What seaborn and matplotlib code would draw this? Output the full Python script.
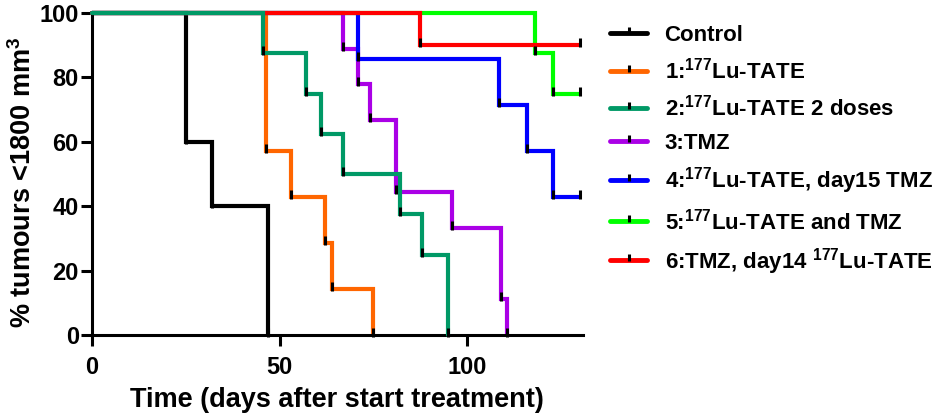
import numpy as np
import pandas as pd
import matplotlib
matplotlib.use("Agg")
import matplotlib.pyplot as plt
from matplotlib.path import Path
from matplotlib.lines import Line2D
import seaborn as sns

# ---- data ----
groups = ["Control", "1:$^{177}$Lu-TATE", "2:$^{177}$Lu-TATE 2 doses", "3:TMZ",
          "4:$^{177}$Lu-TATE, day15 TMZ", "5:$^{177}$Lu-TATE and TMZ",
          "6:TMZ, day14 $^{177}$Lu-TATE"]
control_t = [0, 25, 32, 47]
control_s = [100, 60, 40, 0]
lu_t = [0, 46.5, 53, 62, 64, 75]
lu_s = [100, 57.1, 42.9, 28.6, 14.3, 0]
lu2_t = [0, 45.5, 57, 61, 67, 82, 88, 95]
lu2_s = [100, 87.5, 75, 62.5, 50, 37.5, 25, 0]
tmz_t = [0, 67, 71, 74, 81, 96, 109, 110.5]
tmz_s = [100, 88.9, 77.8, 66.7, 44.4, 33.3, 11.1, 0]
g4_t = [0, 71, 108.5, 116, 123, 130]
g4_s = [100, 85.7, 71.4, 57.1, 42.9, 42.9]
g5_t = [0, 118, 123, 130]
g5_s = [100, 87.5, 75, 75]
g6_t = [0, 87.5, 130]
g6_s = [100, 90, 90]
x_ticks = [0, 50, 100]
y_ticks = [0, 20, 40, 60, 80, 100]

colors = ["#000000", "#FF6600", "#009966", "#AA00E6", "#0000FF", "#00FF00", "#FF0000"]
series_t = [control_t, lu_t, lu2_t, tmz_t, g4_t, g5_t, g6_t]
series_s = [control_s, lu_s, lu2_s, tmz_s, g4_s, g5_s, g6_s]

rows = []
for g, ts, ss in zip(groups, series_t, series_s):
    for t, s in zip(ts, ss):
        rows.append({"group": g, "day": t, "pct": s})
df = pd.DataFrame(rows)

sns.set_style("ticks")
plt.rcParams["font.family"] = ["Liberation Sans", "DejaVu Sans"]
plt.rcParams["font.weight"] = "bold"
plt.rcParams["mathtext.fontset"] = "custom"
plt.rcParams["mathtext.rm"] = "Liberation Sans:bold"
plt.rcParams["mathtext.it"] = "Liberation Sans:bold"
plt.rcParams["mathtext.bf"] = "Liberation Sans:bold"
plt.rcParams["mathtext.default"] = "rm"
for k in ["text.color", "axes.labelcolor", "xtick.color", "ytick.color", "axes.edgecolor"]:
    plt.rcParams[k] = "black"

fig = plt.figure(figsize=(9.46, 4.17), dpi=100)
ax = fig.add_axes([0.0973, 0.1966, 0.6217 - 0.0973 - 0.0057, 0.9688 - 0.1966])

sns.lineplot(data=df, x="day", y="pct", hue="group", hue_order=groups,
             palette=colors, drawstyle="steps-post", estimator=None, sort=False,
             linewidth=3, legend=False, ax=ax)

zorders = [2.0, 2.1, 2.9, 2.2, 2.3, 2.4, 2.8]
for line, z in zip(ax.lines, zorders):
    line.set_zorder(z)
    line.set_clip_on(False)
    line.set_solid_joinstyle("miter")

tick_marker = Path([(0, -0.25), (0, 1.0)], [Path.MOVETO, Path.LINETO])
for ts, ss in zip(series_t, series_s):
    ax.plot(ts[1:], ss[1:], ls="none", marker=tick_marker, ms=10, mew=2.2,
            mec="black", zorder=4, clip_on=False)

ax.set_xlim(0, 130.8)
ax.set_ylim(0, 100)
ax.set_xticks(x_ticks)
ax.set_yticks(y_ticks)
sns.despine(ax=ax)
for sp in ["left", "bottom"]:
    ax.spines[sp].set_linewidth(2.2)
ax.tick_params(axis="both", width=2.2, length=8, labelsize=17)
ax.tick_params(axis="x", pad=7)
ax.tick_params(axis="y", pad=1.5)
for lab in ax.get_xticklabels() + ax.get_yticklabels():
    lab.set_fontweight("bold")
ax.set_xlabel("Time (days after start treatment)", fontsize=19.5, fontweight="bold", labelpad=6)
ax.set_ylabel("% tumours <1800 mm$^{3}$", fontsize=19.5, fontweight="bold")
ax.yaxis.set_label_coords(-0.112, 0.475)

handles = [Line2D([0], [0], color=c, lw=3.5, marker=tick_marker, ms=8, mew=2.2, mec="black")
           for c in colors]
leg = fig.legend(handles, groups, loc="upper left", bbox_to_anchor=(0.645, 0.941),
                 frameon=False, fontsize=16, handlelength=1.65, handletextpad=0.8,
                 labelspacing=0.53, borderaxespad=0, borderpad=0)
for t in leg.get_texts():
    t.set_fontweight("bold")

fig.savefig("out.png", dpi=100)
